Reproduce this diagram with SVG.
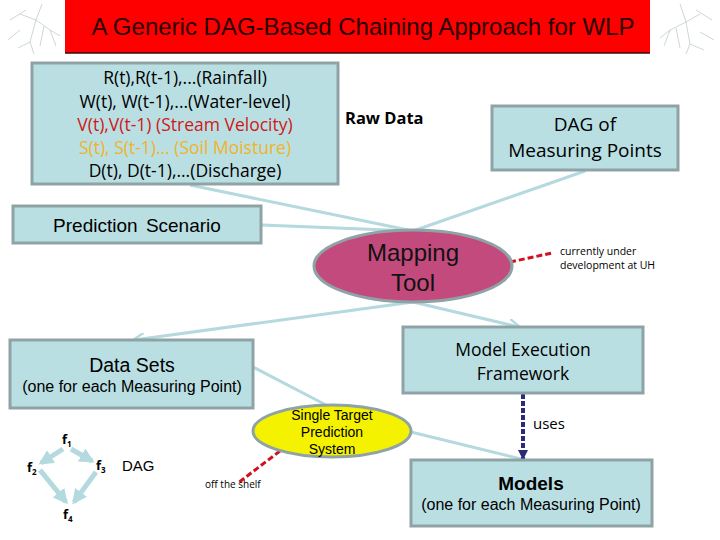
<svg xmlns="http://www.w3.org/2000/svg" width="720" height="540" viewBox="0 0 720 540">
<defs>
<style>
.box{fill:#b9dfe3;stroke:#8fa3a6;stroke-width:3}
.ar{font-family:"Liberation Sans",Arial,sans-serif}
.os{font-family:"Open Sans","Noto Sans",sans-serif}
.conn{stroke:#b4d9de;stroke-width:3;fill:none}
.deco{stroke:#b8c4c8;stroke-width:0.7;fill:none}
</style>
<marker id="ah" viewBox="0 0 10 10" refX="9" refY="5" markerWidth="4" markerHeight="4" orient="auto-start-reverse">
<path d="M0,0 L10,5 L0,10" fill="none" stroke="#b4d9de" stroke-width="2"/>
</marker>
<marker id="fat" viewBox="0 0 10 10" refX="8" refY="5" markerWidth="3" markerHeight="3" orient="auto">
<path d="M0,0 L10,5 L0,10 z" fill="#b4d9de"/>
</marker>
<marker id="nav" viewBox="0 0 10 10" refX="9" refY="5" markerWidth="2.5" markerHeight="2.5" orient="auto">
<path d="M0,0 L10,5 L0,10 z" fill="#2b2b7a"/>
</marker>
</defs>
<rect width="720" height="540" fill="#ffffff"/>
<g id="decoration">
<path class="deco" d="M42,4 L36,20 L30,42 M36,20 L20,14 M36,20 L50,30 L60,36 M30,42 L18,48 M30,42 L34,54 M26,10 L10,20 M20,30 L8,40 M44,26 L40,46 M50,30 L56,46"/>
<path class="deco" d="M680,4 L686,22 L690,44 M686,22 L700,14 M686,22 L670,30 L660,38 M690,44 L704,50 M690,44 L686,54 M696,10 L712,20 M700,32 L714,40 M676,28 L680,48 M670,30 L664,46"/>
</g>
<g id="title">
<rect x="65" y="0" width="585" height="53" fill="#ff0000"/>
<line x1="65" y1="53" x2="650" y2="53" stroke="#3a0a0a" stroke-width="1.5"/>
<text x="363" y="35" class="ar" font-size="24" fill="#2a0000" text-anchor="middle">A Generic DAG-Based Chaining Approach for WLP</text>
</g>
<g id="connectors">
<line class="conn" x1="190" y1="185" x2="413" y2="231"/>
<line class="conn" x1="585" y1="171" x2="413" y2="231"/>
<line class="conn" x1="262" y1="225" x2="412" y2="231"/>
<line class="conn" x1="413" y1="302" x2="134" y2="340" marker-end="url(#ah)"/>
<line class="conn" x1="413" y1="302" x2="519" y2="327" marker-end="url(#ah)"/>
<line class="conn" x1="253" y1="367" x2="328" y2="406"/>
<line class="conn" x1="411" y1="432" x2="525" y2="460"/>
<line x1="510" y1="262" x2="552" y2="253" stroke="#d01020" stroke-width="3" stroke-dasharray="6,3"/>
<line x1="280" y1="451" x2="238" y2="483" stroke="#d01020" stroke-width="3" stroke-dasharray="6,3"/>
<line x1="523" y1="394" x2="523" y2="459" stroke="#2b2b7a" stroke-width="4" stroke-dasharray="5,2" marker-end="url(#nav)"/>
<text x="533" y="429" class="os" font-size="15" fill="#000">uses</text>
</g>
<g id="raw-data">
<rect class="box" x="32" y="63" width="306" height="121"/>
<g class="os" font-size="17.5" text-anchor="middle">
<text x="185" y="84" fill="#000">R(t),R(t-1),...(Rainfall)</text>
<text x="185" y="108" fill="#000">W(t), W(t-1),...(Water-level)</text>
<text x="185" y="131" fill="#d01818">V(t),V(t-1) (Stream Velocity)</text>
<text x="185" y="154" fill="#f0b429">S(t), S(t-1)... (Soil Moisture)</text>
<text x="185" y="177" fill="#000">D(t), D(t-1),...(Discharge)</text>
</g>
</g>
<g id="raw-data-label">
<text x="345" y="124" class="os" font-size="16.5" font-weight="bold" fill="#000">Raw Data</text>
</g>
<g id="dag-box">
<rect class="box" x="492" y="106" width="186" height="64"/>
<text x="585" y="131" class="os" font-size="19" text-anchor="middle" fill="#000">DAG of</text>
<text x="585" y="157" class="os" font-size="19" text-anchor="middle" fill="#000">Measuring Points</text>
</g>
<g id="prediction-scenario">
<rect class="box" x="13" y="206" width="248" height="37"/>
<text x="137" y="232" class="ar" font-size="19" word-spacing="3" text-anchor="middle" fill="#000">Prediction Scenario</text>
</g>
<g id="mapping-tool">
<ellipse cx="413" cy="266" rx="99" ry="36" fill="#c24a7c" stroke="#8fa3a6" stroke-width="3"/>
<text x="413" y="261" class="ar" font-size="24" text-anchor="middle" fill="#111">Mapping</text>
<text x="413" y="291" class="ar" font-size="24" text-anchor="middle" fill="#111">Tool</text>
</g>
<g id="uh-note">
<text x="560" y="255" class="os" font-size="10.5" fill="#000">currently under</text>
<text x="560" y="269" class="os" font-size="10.5" fill="#000">development at UH</text>
</g>
<g id="data-sets">
<rect class="box" x="10" y="340" width="243" height="68"/>
<text x="132" y="372" class="ar" font-size="19.5" text-anchor="middle" fill="#000">Data Sets</text>
<text x="132" y="392" class="ar" font-size="16" text-anchor="middle" fill="#000">(one for each Measuring Point)</text>
</g>
<g id="model-execution">
<rect class="box" x="403" y="327" width="240" height="66"/>
<text x="523" y="356" class="os" font-size="17.5" text-anchor="middle" fill="#000">Model Execution</text>
<text x="523" y="380" class="os" font-size="17.5" text-anchor="middle" fill="#000">Framework</text>
</g>
<g id="single-target">
<ellipse cx="332" cy="431" rx="79" ry="26" fill="#f5f200" stroke="#8fa3a6" stroke-width="3"/>
<text x="332" y="420" class="ar" font-size="14" text-anchor="middle" fill="#000">Single Target</text>
<text x="332" y="437" class="ar" font-size="14" text-anchor="middle" fill="#000">Prediction</text>
<text x="332" y="454" class="ar" font-size="14" text-anchor="middle" fill="#000">System</text>
</g>
<g id="off-shelf">
<text x="205" y="488" class="os" font-size="10" fill="#000">off the shelf</text>
</g>
<g id="models">
<rect class="box" x="411" y="460" width="241" height="66"/>
<text x="531" y="490" class="ar" font-size="19" font-weight="bold" text-anchor="middle" fill="#000">Models</text>
<text x="531" y="510" class="ar" font-size="16" text-anchor="middle" fill="#000">(one for each Measuring Point)</text>
</g>
<g id="small-dag">
<g stroke="#b4d9de" stroke-width="5" fill="none">
<line x1="63" y1="449" x2="41" y2="463" marker-end="url(#fat)"/>
<line x1="71" y1="449" x2="92" y2="461" marker-end="url(#fat)"/>
<line x1="40" y1="470" x2="66" y2="502" marker-end="url(#fat)"/>
<line x1="96" y1="472" x2="74" y2="502" marker-end="url(#fat)"/>
</g>
<g class="os" font-size="13" font-weight="bold" fill="#000">
<text x="62" y="444">f<tspan font-size="8" dy="3">1</tspan></text>
<text x="27" y="472">f<tspan font-size="8" dy="3">2</tspan></text>
<text x="96" y="470">f<tspan font-size="8" dy="3">3</tspan></text>
<text x="63" y="519">f<tspan font-size="8" dy="3">4</tspan></text>
</g>
<text x="122" y="471" class="ar" font-size="15" fill="#000">DAG</text>
</g>
</svg>
